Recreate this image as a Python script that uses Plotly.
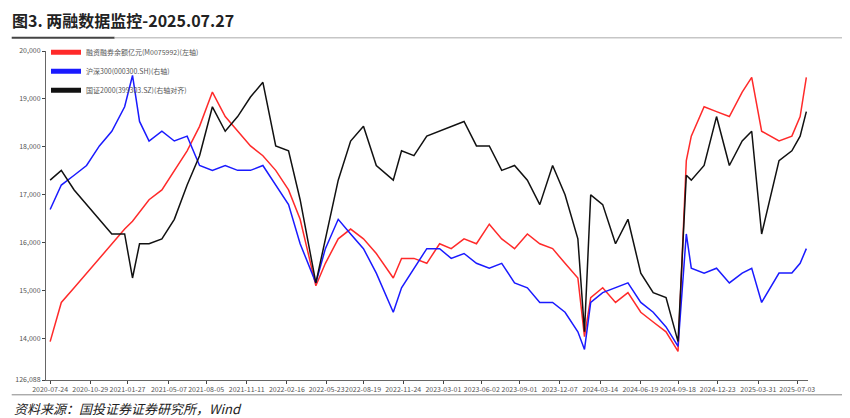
import plotly.graph_objects as go

dates = ["2020-07-24","2020-08-20","2020-09-20","2020-10-20","2020-11-20","2020-12-20",
 "2021-01-20","2021-02-08","2021-02-25","2021-03-20","2021-04-20","2021-05-20","2021-06-20","2021-07-20","2021-08-20","2021-09-20","2021-10-20","2021-11-20","2021-12-20",
 "2022-01-20","2022-02-20","2022-03-20","2022-04-27","2022-05-20","2022-06-20","2022-07-20","2022-08-20","2022-09-20","2022-10-31","2022-11-20","2022-12-20",
 "2023-01-20","2023-02-20","2023-03-20","2023-04-20","2023-05-20","2023-06-20","2023-07-20","2023-08-20","2023-09-20","2023-10-20","2023-11-20","2023-12-20",
 "2024-01-20","2024-02-05","2024-02-20","2024-03-20","2024-04-20","2024-05-20","2024-06-20","2024-07-20","2024-08-20","2024-09-18","2024-10-08","2024-10-20","2024-11-20","2024-12-20",
 "2025-01-20","2025-02-20","2025-03-15","2025-04-08","2025-05-20","2025-06-20","2025-07-10","2025-07-25"]

margin_balance = [13940,14757,15063,15369,15675,15981,
 16287,16450,16650,16899,17103,17511,17919,18429,19143,18633,18327,18021,17817,
 17511,17103,16491,15104,15573,16083,16287,16083,15777,15267,15675,15675,
 15573,15981,15879,16083,15981,16389,16083,15879,16185,15981,15879,15573,
 15267,14043,14859,15063,14757,14961,14553,14349,14145,13737,17715,18225,18837,18735,
 18633,19143,19449,18327,18123,18225,18633,19449]

hs300 = [16695,17205,17409,17613,18021,18327,
 18837,19490,18531,18123,18327,18123,18225,17613,17511,17613,17511,17511,17613,
 17205,16797,15981,15165,15879,16491,16185,15879,15369,14553,15063,15471,
 15879,15879,15675,15777,15573,15471,15573,15165,15063,14757,14757,14553,
 14145,13778,14757,14961,15063,15165,14757,14553,14247,13839,16185,15471,15369,15471,
 15165,15369,15471,14757,15369,15369,15573,15879]

gz2000 = [17307,17511,17103,16797,16491,16185,
 16185,15267,15981,15981,16083,16491,17205,17817,18837,18327,18633,19041,19347,
 18021,17919,16899,15165,16083,17307,18123,18429,17613,17307,17919,17817,
 18225,18327,18429,18531,18021,18021,17511,17613,17307,16797,17613,17001,
 16083,14145,17001,16797,15981,16491,15369,14961,14859,13941,17409,17307,17613,18633,
 17613,18123,18327,16185,17715,17919,18225,18735]

tick_dates = ["2020-07-24","2020-10-29","2021-01-27","2021-05-07","2021-08-05","2021-11-11","2022-02-16","2022-05-23","2022-08-19","2022-11-24","2023-03-01","2023-06-02","2023-09-01","2023-12-07","2024-03-14","2024-06-19","2024-09-18","2024-12-23","2025-03-31","2025-07-03"]
y_ticks = [13140,14000,15000,16000,17000,18000,19000,20000]
y_labels = ["126,088","14,000","15,000","16,000","17,000","18,000","19,000","20,000"]

fig = go.Figure()
fig.add_trace(go.Scatter(x=dates, y=margin_balance, name="融资融券余额亿元(M0075992)(左轴)",
                         mode="lines", line=dict(color="#ff2a2a", width=1.5)))
fig.add_trace(go.Scatter(x=dates, y=hs300, name="沪深300(000300.SH)(右轴)", yaxis="y2",
                         mode="lines", line=dict(color="#1a1aff", width=1.5)))
fig.add_trace(go.Scatter(x=dates, y=gz2000, name="国证2000(399303.SZ)(右轴对齐)", yaxis="y2",
                         mode="lines", line=dict(color="#111111", width=1.5)))

yr = [13140, 20000]
fig.update_layout(
    width=850, height=418, plot_bgcolor="white", paper_bgcolor="white",
    margin=dict(l=38, r=50, t=43, b=46, autoexpand=False),
    font=dict(family="Noto Sans CJK SC", color="#555"),
    showlegend=True,
    legend=dict(x=0.0, y=1.04, xanchor="left", yanchor="top", bgcolor="rgba(0,0,0,0)",
                font=dict(size=7, color="#555"), tracegroupgap=0, itemwidth=30, itemsizing="constant"),
    xaxis=dict(type="date", range=["2020-07-14","2025-07-29"], tickvals=tick_dates, ticktext=tick_dates,
               tickfont=dict(size=7), tickangle=0, showgrid=False, showline=True, linecolor="#666",
               ticks="outside", ticklen=3),
    yaxis=dict(range=yr, tickvals=y_ticks, ticktext=y_labels, tickfont=dict(size=7),
               showgrid=False, showline=True, linecolor="#666", ticks="outside", ticklen=3, zeroline=False),
    yaxis2=dict(range=yr, overlaying="y", side="right", visible=False),
)
fig.add_annotation(x=0, y=1, xref="paper", yref="paper", xanchor="left", yanchor="bottom",
                   xshift=-36, yshift=17, text="<b>图3. 两融数据监控-2025.07.27</b>", showarrow=False,
                   font=dict(size=16, color="#222"))
fig.add_shape(type="line", xref="paper", yref="paper", x0=-0.045, x1=0.09, y0=1.04, y1=1.04,
              line=dict(color="#444", width=2))
fig.add_shape(type="line", xref="paper", yref="paper", x0=0.09, x1=1.05, y0=1.04, y1=1.04,
              line=dict(color="#aaa", width=1))
fig.add_shape(type="line", xref="paper", yref="paper", x0=-0.045, x1=1.05, y0=-0.045, y1=-0.045,
              line=dict(color="#888", width=1))
fig.add_annotation(x=0, y=0, xref="paper", yref="paper", xanchor="left", yanchor="top",
                   xshift=-34, yshift=-17, text="<i>资料来源：国投证券证券研究所，Wind</i>", showarrow=False,
                   font=dict(size=13, color="#222"))
fig.write_html("out.html")
